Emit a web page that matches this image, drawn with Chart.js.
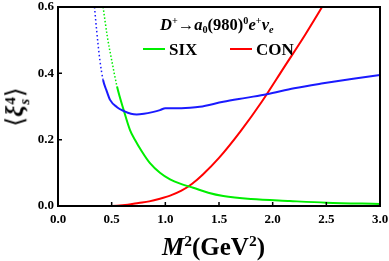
<!DOCTYPE html>
<html><head><meta charset="utf-8">
<script src="https://cdn.jsdelivr.net/npm/chart.js@4.4.1/dist/chart.umd.min.js"></script>
<style>
html,body{margin:0;padding:0;background:#fff;}
#wrap{position:relative;width:389px;height:261px;overflow:hidden;}
canvas{position:absolute;left:0;top:0;}
.txt{position:absolute;font-family:"Liberation Serif","Times New Roman",serif;font-weight:bold;color:#000;white-space:nowrap;line-height:1;}
.txt i{font-style:italic;}
.sup{font-size:0.62em;vertical-align:0.55em;}
.sub{font-size:0.62em;vertical-align:-0.3em;}
#ylab{left:17px;top:107px;transform:translate(-50%,-50%) rotate(-90deg);font-size:25px;}
.ss{display:inline-block;vertical-align:middle;font-size:0.6em;line-height:0.95;text-align:left;margin-left:1px;}
</style></head>
<body><div id="wrap">
<canvas id="c" width="389" height="261"></canvas>
<div class="txt" id="ann" style="left:160px;top:16px;font-size:16.5px;"><i>D</i><span class="sup">+</span>→<i>a</i><span class="sub">0</span>(980)<span class="sup">0</span><i>e</i><span class="sup">+</span><i>ν</i><span class="sub"><i>e</i></span></div>
<div class="txt" id="xlab" style="left:162px;top:233px;font-size:25px;"><i>M</i><span class="sup">2</span>(GeV<span class="sup">2</span>)</div>
<div class="txt" id="ylab"><span style="font-family:'DejaVu Serif',serif;font-weight:normal;">⟨</span><i>ξ</i><span class="ss">4<br><i>s</i></span><span style="font-family:'DejaVu Serif',serif;font-weight:normal;">⟩</span></div>
</div>
<script>
// ---- data ----
const xTickValues = [0.0, 0.5, 1.0, 1.5, 2.0, 2.5, 3.0];
const yTickValues = [0.0, 0.2, 0.4, 0.6];

const sixM2  = [0.42, 0.46, 0.50, 0.55, 0.615, 0.671, 0.718, 0.78, 0.857, 0.95, 1.044, 1.15, 1.26, 1.4, 1.54, 1.8, 2.16, 2.5, 3.0];
const sixVal = [0.60, 0.51, 0.44, 0.36, 0.286, 0.229, 0.199, 0.165, 0.129, 0.100, 0.080, 0.066, 0.055, 0.040, 0.030, 0.021, 0.015, 0.010, 0.006];

const conM2  = [0.0, 0.45, 0.55, 0.65, 0.75, 0.85, 0.95, 1.05, 1.15, 1.25, 1.35, 1.5, 1.7, 1.9, 2.1, 2.3, 2.46, 2.55];
const conVal = [0.0, 0.0, 0.001, 0.004, 0.009, 0.014, 0.022, 0.032, 0.046, 0.067, 0.095, 0.145, 0.225, 0.315, 0.415, 0.515, 0.600, 0.650];

const xiM2  = [0.34, 0.36, 0.39, 0.42, 0.45, 0.485, 0.55, 0.615, 0.68, 0.733, 0.8, 0.88, 0.95, 1.0, 1.05, 1.15, 1.23, 1.32, 1.54, 1.75, 1.945, 2.2, 2.47, 2.75, 3.0];
const xiVal = [0.60, 0.53, 0.44, 0.38, 0.35, 0.32, 0.298, 0.286, 0.278, 0.276, 0.278, 0.283, 0.289, 0.295, 0.295, 0.295, 0.296, 0.299, 0.314, 0.326, 0.337, 0.355, 0.37, 0.384, 0.395];

const legendLabels = ["SIX", "CON"];
const colors = {six: "#00ee00", con: "#ff0000", xi: "#1a1aff"};

const pts = (xs, ys) => xs.map((x, i) => ({x: x, y: ys[i]}));

const frameAndTicks = {
  id: 'frameAndTicks',
  afterDatasetsDraw(chart) {
    const {ctx, chartArea: a, scales} = chart;
    ctx.save();
    ctx.strokeStyle = '#000';
    ctx.lineWidth = 2;
    ctx.strokeRect(a.left, a.top, a.right - a.left, a.bottom - a.top);
    ctx.lineWidth = 1.5;
    ctx.beginPath();
    xTickValues.forEach(v => {
      const px = scales.x.getPixelForValue(v);
      ctx.moveTo(px, a.bottom); ctx.lineTo(px, a.bottom - 4);
    });
    yTickValues.forEach(v => {
      const py = scales.y.getPixelForValue(v);
      ctx.moveTo(a.left, py); ctx.lineTo(a.left + 4, py);
    });
    ctx.stroke();
    // legend
    ctx.font = 'bold 17px "Liberation Serif", "Times New Roman", serif';
    ctx.textBaseline = 'alphabetic';
    ctx.fillStyle = '#000';
    const entries = [
      {label: legendLabels[0], color: colors.six, x0: 143},
      {label: legendLabels[1], color: colors.con, x0: 230}
    ];
    entries.forEach(e => {
      ctx.strokeStyle = e.color; ctx.lineWidth = 2;
      ctx.beginPath(); ctx.moveTo(e.x0, 49); ctx.lineTo(e.x0 + 22, 49); ctx.stroke();
      ctx.fillText(e.label, e.x0 + 26, 55);
    });
    ctx.restore();
  }
};

new Chart(document.getElementById('c'), {
  type: 'line',
  data: {
    datasets: [
      {label: 'xi', data: pts(xiM2, xiVal), borderColor: colors.xi, borderWidth: 2, pointRadius: 0,
       cubicInterpolationMode: 'monotone',
       segment: {borderDash: c => c.p0.parsed.x < 0.41 ? [1.5, 2.5] : undefined,
                 borderWidth: c => c.p0.parsed.x < 0.41 ? 1.5 : 2}},
      {label: 'SIX', data: pts(sixM2, sixVal), borderColor: colors.six, borderWidth: 2, pointRadius: 0,
       cubicInterpolationMode: 'monotone',
       segment: {borderDash: c => c.p0.parsed.x < 0.53 ? [1.5, 2] : undefined,
                 borderWidth: c => c.p0.parsed.x < 0.53 ? 1.5 : 2}},
      {label: 'CON', data: pts(conM2, conVal), borderColor: colors.con, borderWidth: 2, pointRadius: 0,
       cubicInterpolationMode: 'monotone'}
    ]
  },
  options: {
    responsive: false, animation: false, devicePixelRatio: 1,
    layout: {padding: {left: 0, right: 9, top: 7, bottom: 0}},
    plugins: {legend: {display: false}, tooltip: {enabled: false}},
    scales: {
      x: {type: 'linear', min: 0, max: 3,
          grid: {display: false, drawTicks: false}, border: {display: false},
          afterFit: s => { s.height = 55; s.paddingLeft = 0; s.paddingRight = 0; },
          afterBuildTicks: s => { s.ticks = xTickValues.map(v => ({value: v})); },
          ticks: {padding: 6, maxRotation: 0, color: '#000', callback: v => v.toFixed(1),
                  font: {family: '"Liberation Serif", "Times New Roman", serif', weight: 'bold', size: 13}}},
      y: {type: 'linear', min: 0, max: 0.6,
          grid: {display: false, drawTicks: false}, border: {display: false},
          afterFit: s => { s.width = 58; s.paddingTop = 0; s.paddingBottom = 0; },
          afterBuildTicks: s => { s.ticks = yTickValues.map(v => ({value: v})); },
          ticks: {padding: 4, color: '#000', callback: v => v.toFixed(1),
                  font: {family: '"Liberation Serif", "Times New Roman", serif', weight: 'bold', size: 13}}}
    }
  },
  plugins: [frameAndTicks]
});
</script>
</body></html>
